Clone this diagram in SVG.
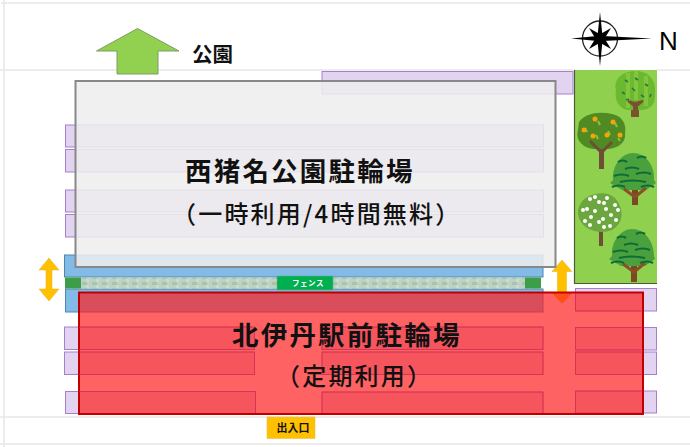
<svg xmlns="http://www.w3.org/2000/svg" xmlns:xlink="http://www.w3.org/1999/xlink" width="690" height="447" viewBox="0 0 690 447">
<style>
.grid{stroke:#e8e8e8;stroke-width:1.5;fill:none}
.p{fill:#e2d4f0;stroke:#a97fcb;stroke-width:1}
.o{fill:none;stroke:#c8305a;stroke-opacity:.6;stroke-width:1}
.b{fill:#82bbe8;stroke:#4f86b0;stroke-width:1}
text{font-family:"Noto Sans CJK JP","Noto Sans",sans-serif;fill:#111}
.t{font-size:26.500px;font-weight:700;letter-spacing:2.200px}
.s{font-size:24px;font-weight:500;letter-spacing:2.200px}
.yl{fill:#ffc000;stroke:#e8b020;stroke-width:.5}
</style>
<defs>
<pattern id="fp" width="10" height="6" patternUnits="userSpaceOnUse"><rect width="10" height="6" fill="#bcd3c4"/><rect x="2" y="0" width="5" height="3" fill="#a6c4ae"/><rect x="6" y="3" width="3" height="3" fill="#cbdccf"/></pattern>
<g id="stripes"><path d="M-15-10q5-3 9 0M4-14q5-3 9 0M-8-3q7-3 14 0M-19 4q8-3 15 0M3 2q8-3 15 0M-13 10q12-3 26 0M-21 15q7-3 13 0M8 15q7-3 13 0" fill="none" stroke="#0c6b3a" stroke-width="2.200"/></g>
</defs>
<g id="background">
<path class="grid" d="M1 3H690M4 0V447M0 70H575M657 70H690M0 417H690M0 444H690"/>
</g>
<g id="park">
<rect x="574.500" y="70" width="82.500" height="213" fill="#8fd14f"/>
<path d="M574.500 70V283.500H657" fill="none" stroke="#4d5a3d" stroke-width="1.200"/>
<g id="tree1">
<rect x="631" y="98" width="8" height="19" fill="#7a5230"/>
<path d="M616 90C613 78 624 71 636 71C648 71 657 80 655 94C656 105 649 110 641 110H627C619 108 614 100 616 90Z" fill="#6cb82f"/>
<path d="M628 73V108M636 71V100M646 76V106" stroke="#82c63e" stroke-width="4" fill="none"/>
<path d="M628 101L634 106V114H637V106L643 101L635 103Z" fill="#7a5230" stroke="#7a5230" stroke-width="2"/>
<path d="M625 80l3 2M635 78l3 2M645 84l3 2M622 92l3 2M632 88l3 3M641 95l3 2M626 100l3-1M650 97l1-3" stroke="#1f7a46" stroke-width="1.600"/>
</g>
<g id="tree2">
<rect x="599" y="144" width="5" height="25" fill="#6e4f36"/>
<path d="M579 122C585 113 600 111 612 114C622 116 627 124 625 134C626 143 617 149 606 149H594C583 148 575 140 578 130Z" fill="#4f8a23"/>
<path d="M601 152L590 141M602 152L612 142" stroke="#6e4f36" stroke-width="3"/>
<path d="M585 128l2 4M598 121l2 4M608 131l2 4M615 123l2 4M596 135l2 4M618 138l2 3" stroke="#8fbf3f" stroke-width="2"/>
<g fill="#f7a40b"><circle cx="595" cy="119" r="2.500"/><circle cx="613" cy="122" r="2.500"/><circle cx="584" cy="130" r="2.500"/><circle cx="593" cy="136" r="2.500"/><circle cx="607" cy="135" r="2.500"/><circle cx="620" cy="135" r="2.500"/></g>
</g>
<g id="tree3">
<rect x="632" y="185" width="6" height="20" fill="#7a4a25"/>
<path d="M613 180C612 165 622 153 633 153C646 153 655 166 654 180L656 183L646 190H622L610 183Z" fill="#4aa03c"/>
<path d="M635 197L624 189M635 197L646 188" stroke="#8a4f25" stroke-width="3"/>
<use href="#stripes" xlink:href="#stripes" transform="translate(633 172)"/>
</g>
<g id="tree4">
<rect x="599" y="228" width="4" height="18" fill="#6e4f36"/>
<path d="M581 203C587 193 610 188 618 202C624 212 623 224 612 230C602 234 588 232 581 222C577 216 577 209 581 203Z" fill="#6ca63f"/>
<g fill="#fff"><circle cx="590" cy="199" r="2"/><circle cx="595" cy="197" r="2"/><circle cx="607" cy="198" r="2"/><circle cx="599" cy="202" r="2"/><circle cx="604" cy="203" r="2"/><circle cx="615" cy="205" r="2"/><circle cx="583" cy="210" r="2"/><circle cx="587" cy="209" r="2"/><circle cx="595" cy="211" r="2"/><circle cx="606" cy="209" r="2"/><circle cx="618" cy="210" r="2"/><circle cx="611" cy="215" r="2"/><circle cx="591" cy="217" r="2"/><circle cx="599" cy="222" r="2"/><circle cx="603" cy="219" r="2"/><circle cx="616" cy="220" r="2"/><circle cx="585" cy="221" r="2"/><circle cx="590" cy="225" r="2"/><circle cx="604" cy="227" r="2"/><circle cx="610" cy="226" r="2"/></g>
</g>
<g id="tree5">
<rect x="631" y="262" width="6" height="20" fill="#7a4a25"/>
<path d="M612 256C611 241 621 229 632 229C645 229 654 242 654 256L655 259L645 266H621L609 259Z" fill="#4aa03c"/>
<path d="M634 272L623 264M634 272L645 263" stroke="#8a4f25" stroke-width="3"/>
<use href="#stripes" xlink:href="#stripes" transform="translate(632 248)"/>
</g>
</g>
<g id="racks">
<rect class="p" x="322" y="71.500" width="251" height="22.500"/>
<rect class="p" x="65.500" y="125" width="478" height="22"/>
<rect class="p" x="65.500" y="149.500" width="478" height="22.500"/>
<rect class="p" x="65.500" y="190" width="478" height="22"/>
<rect class="p" x="65.500" y="214.500" width="478" height="22.500"/>
<rect class="p" x="64.500" y="327" width="190" height="22.500"/>
<rect class="p" x="64.500" y="352" width="190" height="22.500"/>
<rect class="p" x="65.500" y="391.500" width="190" height="22"/>
<rect class="p" x="322" y="327" width="221" height="22.500"/>
<rect class="p" x="322" y="352" width="221" height="22.500"/>
<rect class="p" x="322" y="392" width="221" height="21.500"/>
<rect class="p" x="575.500" y="288.500" width="81" height="22.500"/>
<rect class="p" x="575.500" y="327.500" width="81" height="22.500"/>
<rect class="p" x="575.500" y="352" width="81" height="22.500"/>
<rect class="p" x="575.500" y="391" width="81" height="22"/>
</g>
<g id="blue-racks">
<rect class="b" x="64.500" y="255" width="478.500" height="22"/>
<rect class="b" x="65.500" y="289" width="477.500" height="23"/>
</g>
<g id="fence">
<rect x="65" y="277.500" width="476" height="11" fill="url(#fp)"/>
<rect x="65" y="277.500" width="16" height="11" fill="#3c9e48"/>
<rect x="525" y="277.500" width="16" height="11" fill="#3c9e48"/>
<rect x="277" y="276" width="56" height="14" fill="#00b050" stroke="#6ea888" stroke-width=".6"/>
<text x="308" y="286" font-size="7.500" font-weight="700" text-anchor="middle" style="fill:#fff" letter-spacing=".6">フェンス</text>
</g>
<g id="connectors">
<path class="yl" d="M49 258L59 270H52V289H59L49 301L39 289H46V270H39Z"/>
<path class="yl" d="M562 260L572 271.500H566.500V293H572L562 303.500L552 293H557.500V271.500H552Z"/>
</g>
<g id="park-arrow">
<path d="M137.500 28.500L179 51H158V74H117V51H96.500Z" fill="#92d050" stroke="#7f9c63" stroke-width="1"/>
<text x="192" y="62" font-size="20.500" font-weight="700">公園</text>
</g>
<g id="west-lot">
<rect x="75.500" y="81" width="480" height="186" fill="#ededed" fill-opacity=".86" stroke="#888" stroke-width="2"/>
<text class="t" x="185" y="181">西猪名公園駐輪場</text>
<text class="s" x="172" y="223">（一時利用/4時間無料）</text>
</g>
<g id="north-lot">
<rect x="79" y="292.500" width="564" height="121.500" fill="#ff2020" fill-opacity=".7" stroke="#c00000" stroke-width="2"/>
<path class="o" d="M79 327H254.500V349.500H79M79 352H254.500V374.500H79M79 391.500H255.500V413M322 413V392H543V413M322 327H543V349.500H322ZM322 352H543V374.500H322ZM575.500 311V293M643 311H575.500M643 327.500H575.500V350H643M643 352H575.500V374.500H643M643 391H575.500V413"/>
<text class="t" x="232" y="345">北伊丹駅前駐輪場</text>
<text class="s" x="276" y="385">（定期利用）</text>
</g>
<g id="compass">
<circle cx="600" cy="38.500" r="17.500" fill="none" stroke="#222" stroke-width="1.300"/>
<path d="M600 12L602.500 36L652 38.500L602.500 41L600 66L597.500 41L571 38.500L597.500 36Z" fill="#000" transform="translate(0 0)"/>
<path d="M589 28L603 36L611 49L597 41ZM611 28L603 41L589 49L597 36Z" fill="#000"/>
<text x="659" y="49.500" font-size="26" font-weight="500" style="font-family:'Liberation Sans',sans-serif;fill:#000">N</text>
</g>
<g id="entrance">
<rect x="267" y="417" width="48" height="21.500" fill="#ffc000" stroke="#e8c050" stroke-width=".6"/>
<text x="293" y="432" font-size="11" font-weight="700" text-anchor="middle">出入口</text>
</g>
</svg>
